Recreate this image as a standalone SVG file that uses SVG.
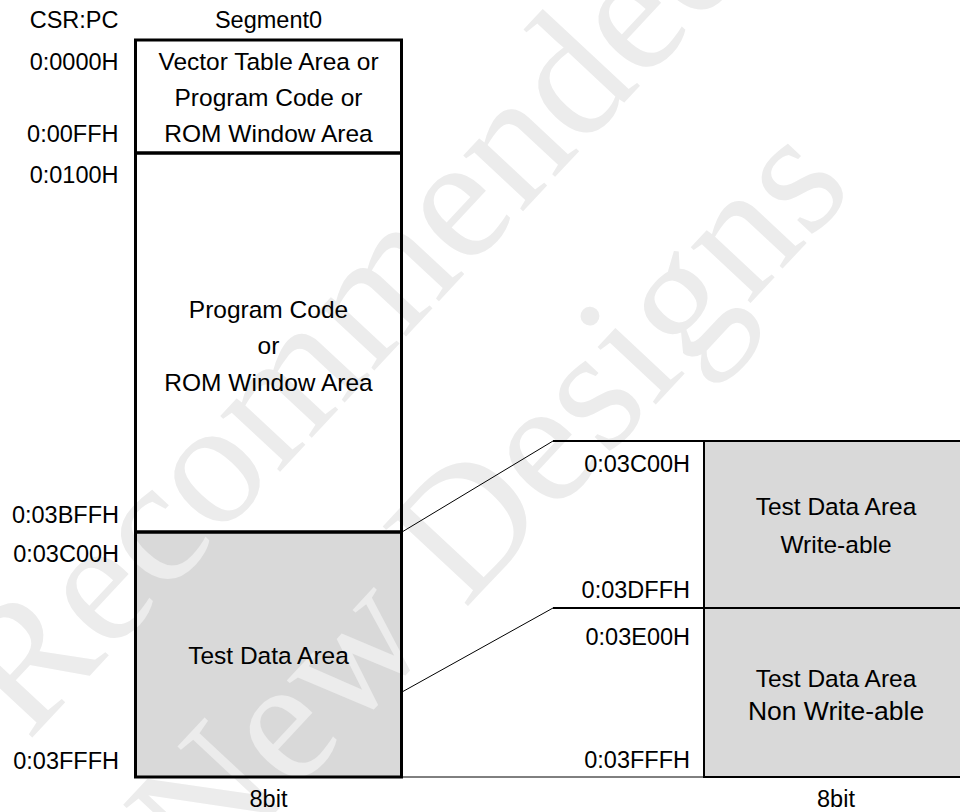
<svg xmlns="http://www.w3.org/2000/svg" width="960" height="812" viewBox="0 0 960 812">
<style>
text{font-family:"Liberation Sans",Arial,sans-serif;font-size:23.5px;fill:#000}
.r{text-anchor:end}
.c{text-anchor:middle}
.in{font-size:24.5px}
.big{font-size:26.5px}
.wm{font-family:"Liberation Serif","Times New Roman",serif;font-size:178px;fill:#ececec}
.thick{stroke:#000;stroke-width:3;fill:none}
.med{stroke:#000;stroke-width:2;fill:none}
.thin{stroke:#000;stroke-width:1;fill:none}
.gray{fill:#d9d9d9}
</style>
<rect width="960" height="812" fill="#fff"/>
<rect class="gray" x="135.5" y="532" width="266" height="245"/>
<rect class="gray" x="704" y="441" width="260" height="336"/>
<g id="watermark">
<text class="wm" transform="translate(28,742) rotate(-47)">Recommended</text>
<text class="wm" transform="translate(205,888) rotate(-47)">New Designs</text>
</g>
<g id="connectors">
<path class="thin" d="M402,532L553,441"/>
<path class="thin" d="M402,692L553,608"/>
<path class="med" d="M553,441H704"/>
<path class="med" d="M553,608H704"/>
<path class="thin" d="M402,777H704"/>
</g>
<g id="vector-area">
<rect class="thick" x="135.5" y="40" width="266" height="113"/>
<text class="c in" x="268.5" y="70">Vector Table Area or</text>
<text class="c in" x="268.5" y="106">Program Code or</text>
<text class="c in" x="268.5" y="142">ROM Window Area</text>
</g>
<g id="program-area">
<rect class="thick" x="135.5" y="153" width="266" height="379"/>
<text class="c in" x="268.5" y="318">Program Code</text>
<text class="c in" x="268.5" y="354">or</text>
<text class="c in" x="268.5" y="391">ROM Window Area</text>
</g>
<g id="test-area">
<rect class="thick" x="135.5" y="532" width="266" height="245"/>
<text class="c in" x="268.5" y="664">Test Data Area</text>
</g>
<g id="writeable-area">
<rect class="med" x="704" y="441" width="262" height="167"/>
<text class="c in" x="836" y="515">Test Data Area</text>
<text class="c in" x="836" y="553">Write-able</text>
</g>
<g id="nonwriteable-area">
<rect class="med" x="704" y="608" width="262" height="169"/>
<text class="c in" x="836" y="687">Test Data Area</text>
<text class="c big" x="836" y="720">Non Write-able</text>
</g>
<g id="labels">
<text class="r" x="118.5" y="28">CSR:PC</text>
<text class="c" x="268.5" y="28">Segment0</text>
<text class="r" x="118.5" y="70">0:0000H</text>
<text class="r" x="118.5" y="142">0:00FFH</text>
<text class="r" x="118.5" y="183">0:0100H</text>
<text class="r" x="119" y="523">0:03BFFH</text>
<text class="r" x="119" y="562">0:03C00H</text>
<text class="r" x="119" y="769">0:03FFFH</text>
<text class="c" x="268.5" y="807">8bit</text>
<text class="r" x="690" y="472">0:03C00H</text>
<text class="r" x="690" y="598">0:03DFFH</text>
<text class="r" x="690" y="645">0:03E00H</text>
<text class="r" x="690" y="768">0:03FFFH</text>
<text class="c" x="836" y="807">8bit</text>
</g>
</svg>
